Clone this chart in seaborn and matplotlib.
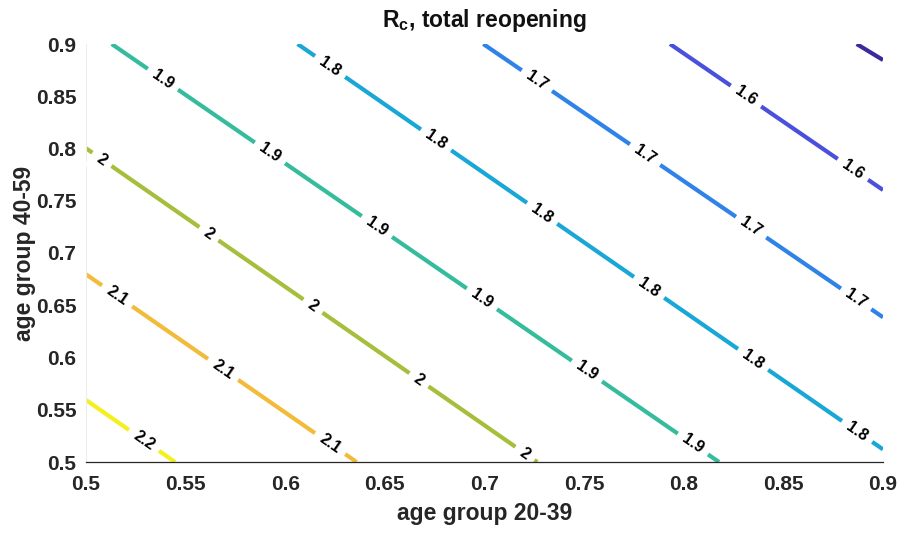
import numpy as np
import pandas as pd
import matplotlib
matplotlib.use("Agg")
import matplotlib.pyplot as plt
import seaborn as sns

# ---- data ----
levels = [1.5, 1.6, 1.7, 1.8, 1.9, 2.0, 2.1, 2.2]
x_start = [0.8868, 0.7931, 0.6994, 0.6062, 0.5129, 0.5000, 0.5000, 0.5000]
y_start = [0.9000, 0.9000, 0.9000, 0.9000, 0.9000, 0.8002, 0.6796, 0.5593]
x_end = [0.9000, 0.9000, 0.9000, 0.9000, 0.8177, 0.7265, 0.6358, 0.5447]
y_end = [0.8847, 0.7603, 0.6385, 0.5121, 0.5000, 0.5000, 0.5000, 0.5000]

# x positions of inline contour labels for each level
label_x = {
    1.5: [],
    1.6: [0.8312, 0.8849],
    1.7: [0.7263, 0.7806, 0.8338, 0.8865],
    1.8: [0.6225, 0.6757, 0.7289, 0.7826, 0.8348, 0.8870],
    1.9: [0.5386, 0.5923, 0.6460, 0.6987, 0.7514, 0.8046],
    2.0: [0.5080, 0.5617, 0.6139, 0.6671, 0.7203],
    2.1: [0.5156, 0.5688, 0.6225],
    2.2: [0.5291],
}

level_colors = ["#3b2a9e", "#4a50dc", "#2f83e8", "#19a7d5",
                "#35bc9c", "#a5be3b", "#f3bb3a", "#f4f01c"]

x_ticks = [0.5, 0.55, 0.6, 0.65, 0.7, 0.75, 0.8, 0.85, 0.9]
y_ticks = [0.5, 0.55, 0.6, 0.65, 0.7, 0.75, 0.8, 0.85, 0.9]
x_tick_labels = ["0.5", "0.55", "0.6", "0.65", "0.7", "0.75", "0.8", "0.85", "0.9"]
y_tick_labels = ["0.5", "0.55", "0.6", "0.65", "0.7", "0.75", "0.8", "0.85", "0.9"]

title_text = r"$\mathbf{R_c}$, total reopening"
xlabel_text = "age group 20-39"
ylabel_text = "age group 40-59"

# ---- build a long table ----
rows = []
for lv, xs, ys, xe, ye in zip(levels, x_start, y_start, x_end, y_end):
    rows.append({"level": lv, "x": xs, "y": ys, "order": 0})
    rows.append({"level": lv, "x": xe, "y": ye, "order": 1})
df = pd.DataFrame(rows)

sns.set_theme(style="white")
plt.rcParams["font.family"] = ["Liberation Sans", "DejaVu Sans"]
plt.rcParams["mathtext.fontset"] = "custom"
plt.rcParams["mathtext.rm"] = "Liberation Sans"
plt.rcParams["mathtext.bf"] = "Liberation Sans:bold"

fig = plt.figure(figsize=(9.07, 5.40), dpi=100)
ax = fig.add_axes([86 / 907, (540 - 462) / 540, (883 - 86) / 907, (462 - 44) / 540])

palette = {lv: c for lv, c in zip(levels, level_colors)}
sns.lineplot(data=df, x="x", y="y", hue="level", units="level", estimator=None,
             sort=False, palette=palette, linewidth=3.0, legend=False, ax=ax)
for line in ax.get_lines():
    line.set_solid_capstyle("butt")

ax.set_xlim(0.5, 0.9)
ax.set_ylim(0.5, 0.9)
ax.set_xticks(x_ticks)
ax.set_xticklabels(x_tick_labels)
ax.set_yticks(y_ticks)
ax.set_yticklabels(y_tick_labels)
for lab in ax.get_xticklabels() + ax.get_yticklabels():
    lab.set_fontweight("bold")
    lab.set_fontsize(15)
    lab.set_color("#262626")
ax.tick_params(axis="both", direction="in", length=7, width=0.8, color="#c8c8c8")
ax.tick_params(axis="x", pad=9)
ax.tick_params(axis="y", pad=7)

for side in ["top", "right"]:
    ax.spines[side].set_visible(False)
ax.spines["left"].set_color("#ededed")
ax.spines["left"].set_linewidth(0.8)
ax.spines["bottom"].set_color("#262626")
ax.spines["bottom"].set_linewidth(0.9)
ax.spines["bottom"].set_zorder(6)

ax.set_xlabel(xlabel_text, fontsize=16.5, fontweight="bold", color="#262626", labelpad=6)
ax.set_ylabel(ylabel_text, fontsize=16.5, fontweight="bold", color="#262626", labelpad=0)
ax.set_title(title_text, fontsize=16.5, fontweight="bold", color="#111111", pad=12)

# ---- inline contour labels ----
for lv, xs, ys, xe, ye in zip(levels, x_start, y_start, x_end, y_end):
    p0 = ax.transData.transform((xs, ys))
    p1 = ax.transData.transform((xe, ye))
    ang = np.degrees(np.arctan2(p1[1] - p0[1], p1[0] - p0[0]))
    for lx in label_x[lv]:
        ly = np.interp(lx, [xs, xe], [ys, ye])
        ax.text(lx, ly, f"{lv:g}", rotation=ang, rotation_mode="anchor",
                ha="center", va="center", fontsize=11.5, fontweight="bold",
                color="black", zorder=5,
                bbox=dict(boxstyle="square,pad=0.45", fc="white", ec="none"))

fig.savefig("out.png", dpi=100)
